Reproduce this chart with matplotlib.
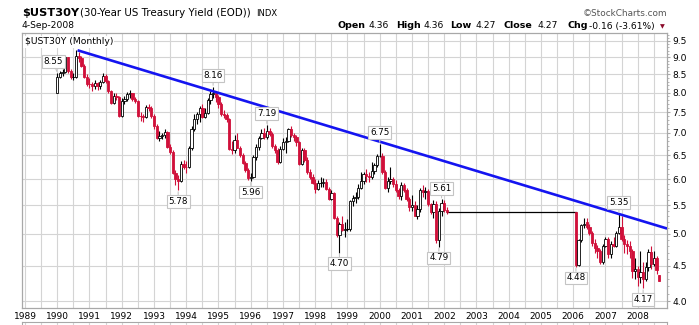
import matplotlib
matplotlib.use("Agg")
import matplotlib.pyplot as plt
from matplotlib.patches import Rectangle
from matplotlib.ticker import FixedLocator, FormatStrFormatter, NullFormatter
import numpy as np
import pandas as pd

# -------------------------- Data (monthly OHLC) --------------------------

# segment 1: Jan 1990 .. Feb 2002
seg1_start = "1990-01"
seg1_open = [
    7.99, 8.44, 8.53, 8.58, 9.00, 8.60, 8.42, 8.44, 9.03, 8.98, 8.75, 8.44,
    8.24, 8.22, 8.19, 8.26, 8.18, 8.30, 8.45, 8.32, 8.04, 7.72, 7.92, 7.89,
    7.40, 7.78, 7.82, 7.96, 7.98, 7.82, 7.78, 7.40, 7.39, 7.37, 7.62, 7.60,
    7.39, 7.17, 6.88, 6.93, 6.95, 7.01, 6.67, 6.56, 6.13, 6.01, 5.96, 6.30,
    6.25, 6.24, 6.66, 7.09, 7.32, 7.44, 7.61, 7.38, 7.47, 7.81, 7.96, 7.98,
    7.88, 7.71, 7.44, 7.43, 7.34, 6.64, 6.62, 6.84, 6.66, 6.50, 6.33, 6.18,
    6.02, 6.05, 6.45, 6.67, 6.89, 6.99, 6.90, 7.05, 6.98, 6.70, 6.62, 6.35,
    6.64, 6.79, 6.80, 7.08, 6.94, 6.91, 6.78, 6.30, 6.61, 6.40, 6.15, 6.05,
    5.92, 5.80, 5.92, 5.93, 5.95, 5.80, 5.62, 5.72, 5.27, 4.99, 5.16, 5.06,
    5.09, 5.09, 5.58, 5.63, 5.66, 5.83, 5.97, 6.10, 6.06, 6.05, 6.16, 6.29,
    6.48, 6.49, 6.14, 5.83, 5.96, 6.01, 5.90, 5.78, 5.67, 5.88, 5.79, 5.61,
    5.46, 5.50, 5.31, 5.44, 5.79, 5.75, 5.76, 5.52, 5.37, 5.52, 4.90, 5.40,
    5.55, 5.42,
]
seg1_high = [
    8.55, 8.60, 8.64, 9.05, 9.02, 8.65, 8.55, 9.21, 9.15, 9.05, 8.80, 8.50,
    8.40, 8.30, 8.35, 8.30, 8.35, 8.55, 8.52, 8.35, 8.08, 7.98, 8.00, 7.92,
    7.85, 7.92, 8.02, 8.08, 8.00, 7.88, 7.80, 7.50, 7.45, 7.68, 7.70, 7.65,
    7.45, 7.20, 7.05, 7.00, 7.10, 7.05, 6.75, 6.60, 6.18, 6.08, 6.38, 6.40,
    6.38, 6.70, 7.15, 7.45, 7.50, 7.65, 7.70, 7.60, 7.85, 8.05, 8.16, 8.00,
    7.95, 7.75, 7.55, 7.48, 7.36, 6.80, 6.95, 7.00, 6.70, 6.55, 6.38, 6.22,
    6.12, 6.50, 6.75, 6.92, 7.10, 7.12, 7.19, 7.12, 7.02, 6.75, 6.65, 6.70,
    6.88, 6.90, 7.12, 7.17, 7.00, 6.95, 6.82, 6.65, 6.65, 6.45, 6.20, 6.10,
    6.00, 5.98, 6.05, 6.02, 6.00, 5.85, 5.78, 5.74, 5.30, 5.20, 5.30, 5.20,
    5.25, 5.60, 5.70, 5.75, 5.90, 6.15, 6.15, 6.20, 6.15, 6.35, 6.32, 6.52,
    6.75, 6.55, 6.18, 6.05, 6.25, 6.05, 5.98, 5.82, 5.95, 5.92, 5.82, 5.65,
    5.70, 5.58, 5.50, 5.82, 5.88, 5.85, 5.80, 5.55, 5.60, 5.58, 5.45, 5.61,
    5.60, 5.46,
]
seg1_low = [
    7.98, 8.40, 8.46, 8.55, 8.55, 8.38, 8.35, 8.40, 8.85, 8.70, 8.40, 8.18,
    8.13, 8.05, 8.10, 8.08, 8.10, 8.25, 8.25, 8.00, 7.70, 7.70, 7.80, 7.38,
    7.38, 7.70, 7.78, 7.85, 7.78, 7.72, 7.38, 7.28, 7.25, 7.35, 7.52, 7.35,
    7.10, 6.85, 6.80, 6.85, 6.88, 6.65, 6.52, 6.10, 5.88, 5.78, 5.95, 6.20,
    6.12, 6.22, 6.62, 7.05, 7.20, 7.25, 7.35, 7.35, 7.45, 7.70, 7.85, 7.75,
    7.60, 7.40, 7.35, 7.25, 6.62, 6.52, 6.55, 6.65, 6.45, 6.30, 6.15, 5.98,
    5.96, 6.03, 6.40, 6.60, 6.85, 6.85, 6.85, 6.92, 6.65, 6.55, 6.30, 6.33,
    6.60, 6.55, 6.78, 6.90, 6.80, 6.70, 6.29, 6.28, 6.35, 6.10, 6.00, 5.90,
    5.72, 5.78, 5.85, 5.85, 5.78, 5.60, 5.60, 5.25, 4.95, 4.70, 5.05, 4.95,
    5.05, 5.05, 5.48, 5.55, 5.62, 5.80, 5.90, 5.95, 5.95, 6.00, 6.10, 6.25,
    6.45, 6.10, 5.80, 5.75, 5.90, 5.85, 5.75, 5.62, 5.60, 5.75, 5.58, 5.40,
    5.40, 5.30, 5.25, 5.38, 5.65, 5.62, 5.48, 5.35, 5.28, 4.85, 4.79, 5.30,
    5.38, 5.35,
]
seg1_close = [
    8.44, 8.53, 8.58, 9.00, 8.60, 8.42, 8.44, 9.03, 8.98, 8.75, 8.44, 8.24,
    8.22, 8.19, 8.26, 8.18, 8.30, 8.45, 8.32, 8.04, 7.72, 7.92, 7.89, 7.40,
    7.78, 7.82, 7.96, 7.98, 7.82, 7.78, 7.40, 7.39, 7.37, 7.62, 7.60, 7.39,
    7.17, 6.88, 6.93, 6.95, 7.01, 6.67, 6.56, 6.13, 6.01, 5.96, 6.30, 6.25,
    6.24, 6.66, 7.09, 7.32, 7.44, 7.61, 7.38, 7.47, 7.81, 7.96, 7.98, 7.88,
    7.71, 7.44, 7.43, 7.34, 6.64, 6.62, 6.84, 6.66, 6.50, 6.33, 6.18, 6.02,
    6.05, 6.45, 6.67, 6.89, 6.99, 6.90, 7.05, 6.98, 6.70, 6.62, 6.35, 6.64,
    6.79, 6.80, 7.08, 6.94, 6.91, 6.78, 6.30, 6.61, 6.40, 6.15, 6.05, 5.92,
    5.80, 5.92, 5.93, 5.95, 5.80, 5.62, 5.72, 5.27, 4.99, 5.16, 5.06, 5.09,
    5.09, 5.58, 5.63, 5.66, 5.83, 5.97, 6.10, 6.06, 6.05, 6.16, 6.29, 6.48,
    6.49, 6.14, 5.83, 5.96, 6.01, 5.90, 5.78, 5.67, 5.88, 5.79, 5.61, 5.46,
    5.50, 5.31, 5.44, 5.79, 5.75, 5.76, 5.52, 5.37, 5.52, 4.90, 5.40, 5.55,
    5.42, 5.37,
]

# segment 2: Feb 2006 .. Sep 2008 (no 30-year data in between)
seg2_start = "2006-02"
seg2_open = [
    5.37, 4.51, 4.90, 5.15, 5.20, 5.12, 5.02, 4.85, 4.77, 4.72, 4.56,
    4.81, 4.92, 4.68, 4.84, 4.81, 5.01, 5.12, 4.91, 4.83, 4.80, 4.72, 4.42,
    4.45, 4.33, 4.41, 4.30, 4.48, 4.71, 4.53, 4.61, 4.36,
]
seg2_high = [
    5.37, 4.92, 5.17, 5.27, 5.28, 5.16, 5.05, 4.92, 4.82, 4.75, 4.84,
    4.95, 4.95, 4.88, 4.95, 5.05, 5.35, 5.30, 4.98, 4.90, 4.88, 4.75, 4.62,
    4.50, 4.72, 4.55, 4.55, 4.75, 4.80, 4.72, 4.65, 4.36,
]
seg2_low = [
    4.48, 4.50, 4.86, 5.10, 5.08, 4.98, 4.80, 4.70, 4.62, 4.52, 4.53,
    4.78, 4.62, 4.62, 4.78, 4.78, 5.00, 4.88, 4.70, 4.68, 4.62, 4.32, 4.30,
    4.20, 4.25, 4.17, 4.28, 4.42, 4.45, 4.50, 4.38, 4.27,
]
seg2_close = [
    4.51, 4.90, 5.15, 5.17, 5.12, 5.02, 4.85, 4.77, 4.72, 4.56, 4.81,
    4.92, 4.68, 4.84, 4.81, 5.01, 5.12, 4.91, 4.83, 4.80, 4.72, 4.42, 4.45,
    4.33, 4.41, 4.30, 4.48, 4.71, 4.53, 4.61, 4.43, 4.27,
]

# hand-drawn trend line (year, yield)
trend_x = [1990.63, 2008.91]
trend_y = [9.21, 5.09]

# labelled turning points
label_months = ["1990-01", "1993-10", "1994-11", "1996-01", "1996-07", "1998-10",
                "2000-01", "2001-11", "2001-12", "2006-02", "2007-06", "2008-03"]
label_sides = ["high", "low", "high", "low", "high", "low",
               "high", "low", "high", "low", "high", "low"]

years = list(range(1989, 2009))
y_ticks = [4.0, 4.5, 5.0, 5.5, 6.0, 6.5, 7.0, 7.5, 8.0, 8.5, 9.0, 9.5]

RED = "#d0103a"
GRID = "#d4d4d4"
FRAME = "#a8a8a8"
W, H = 699, 325


def make_frame(start, o, h, l, c):
    dates = pd.date_range(start, periods=len(c), freq="MS")
    df = pd.DataFrame({"open": o, "high": h, "low": l, "close": c}, index=dates)
    df["x"] = df.index.year + (df.index.month - 1) / 12.0
    return df


seg1 = make_frame(seg1_start, seg1_open, seg1_high, seg1_low, seg1_close)
seg2 = make_frame(seg2_start, seg2_open, seg2_high, seg2_low, seg2_close)
alldata = pd.concat([seg1, seg2])


def draw_candles(ax, df, prev_close):
    w = 0.85 / 12
    pc = prev_close
    for _, r in df.iterrows():
        col = RED if r["close"] < pc else "black"
        ax.vlines(r["x"], r["low"], r["high"], color=col, lw=0.8, zorder=3)
        lo, hi = min(r["open"], r["close"]), max(r["open"], r["close"])
        filled = r["close"] < r["open"]
        if hi - lo < 0.005:
            ax.hlines(lo, r["x"] - w / 2, r["x"] + w / 2, color=col, lw=0.8, zorder=4)
        else:
            ax.add_patch(Rectangle((r["x"] - w / 2, lo), w, hi - lo,
                                   facecolor=col if filled else "white",
                                   edgecolor=col, lw=0.6, zorder=4))
        pc = r["close"]


# -------------------------- Figure --------------------------

fig = plt.figure(figsize=(W / 100, H / 100), dpi=100)
ax = fig.add_axes([22 / W, 1 - 308 / H, 645 / W, 275 / H])

ax.set_yscale("log")
ax.set_xlim(1988.907, 2008.907)
ax.set_ylim(3.908, 9.755)

draw_candles(ax, seg1, seg1["open"].iloc[0])
draw_candles(ax, seg2, seg1["close"].iloc[-1])

# flat line where no data
ax.plot([seg1["x"].iloc[-1], seg2["x"].iloc[0]],
        [seg1["close"].iloc[-1], seg2["open"].iloc[0]], color="black", lw=0.9, zorder=3)

# trend line
ax.plot(trend_x, trend_y, color="#1414f0", lw=1.9, zorder=5, solid_capstyle="butt")

# labels
for m, side in zip(label_months, label_sides):
    r = alldata.loc[pd.Timestamp(m)]
    val = r[side]
    dy = 11 if side == "high" else -11
    dx = -4 if m == "1990-01" else 0
    ax.annotate(f"{val:.2f}", xy=(r["x"], val), xytext=(dx, dy), textcoords="offset pixels",
                ha="center", va="center", fontsize=6.3, zorder=6,
                bbox=dict(boxstyle="square,pad=0.2", fc="white", ec="#c4c4c4", lw=0.8),
                arrowprops=dict(arrowstyle="-", color="#c4c4c4", lw=0.8, shrinkA=0, shrinkB=1))

# axes styling
ax.yaxis.set_major_locator(FixedLocator(y_ticks))
ax.yaxis.set_major_formatter(FormatStrFormatter("%.1f"))
ax.yaxis.set_minor_locator(FixedLocator(np.round(np.arange(3.9, 9.8, 0.1), 1)))
ax.yaxis.set_minor_formatter(NullFormatter())
ax.yaxis.tick_right()
ax.tick_params(axis="y", which="major", length=2, color=FRAME, labelsize=6.6, pad=2)
ax.tick_params(axis="y", which="minor", length=1.2, color=FRAME)

ax.set_xticks(years)
ax.set_xticklabels([str(y) for y in years])
ax.set_xticks([y + 0.5 for y in years], minor=True)
ax.tick_params(axis="x", which="both", length=0, labelsize=6.5, pad=3)

ax.grid(True, which="major", axis="both", color=GRID, lw=0.8, zorder=0)
ax.grid(True, which="minor", axis="x", color=GRID, lw=0.8, zorder=0)
ax.set_axisbelow(True)
for sp in ax.spines.values():
    sp.set_color(FRAME)
    sp.set_linewidth(0.9)

ax.text(0.004, 0.985, r"\$UST30Y (Monthly)", transform=ax.transAxes, ha="left", va="top",
        fontsize=6.7, zorder=7, bbox=dict(boxstyle="square,pad=0.15", fc="white", ec="none"))

# second (empty) panel peeking in at the bottom
ax2 = fig.add_axes([22 / W, -0.05, 645 / W, 0.05 + 3 / H])
ax2.set_xlim(ax.get_xlim())
ax2.set_xticks(years)
ax2.set_xticks([y + 0.5 for y in years], minor=True)
ax2.set_yticks([])
ax2.tick_params(axis="x", which="both", length=0, labelbottom=False)
ax2.grid(True, which="both", axis="x", color=GRID, lw=0.8)
for sp in ax2.spines.values():
    sp.set_color(FRAME)


# -------------------------- Header texts --------------------------

def ftext(x, y, s, **kw):
    fig.text(x / W, 1 - y / H, s, va="center", ha=kw.pop("ha", "left"), **kw)


ftext(22, 12.5, r"\$UST30Y", fontsize=8.2, fontweight="bold")
ftext(80, 13, "(30-Year US Treasury Yield (EOD))", fontsize=7.4)
ftext(256, 13, "INDX", fontsize=6.0)
ftext(21, 26, "4-Sep-2008", fontsize=6.6)
ftext(667, 14, "\u00a9StockCharts.com", fontsize=6.4, color="#555555", ha="right")

header = [(337, "Open", True), (368, "4.36", False), (396, "High", True), (423, "4.36", False),
          (450, "Low", True), (475, "4.27", False), (503, "Close", True), (538, "4.27", False),
          (567, "Chg", True), (589, "-0.16 (-3.61%)", False)]
for x, s, bold in header:
    ftext(x, 26, s, fontsize=6.8 if bold else 6.6, fontweight="bold" if bold else "normal")
ftext(660, 26.5, "\u25bc", fontsize=4.5, color="#8b0a2a")

fig.savefig("out.png", dpi=100)
